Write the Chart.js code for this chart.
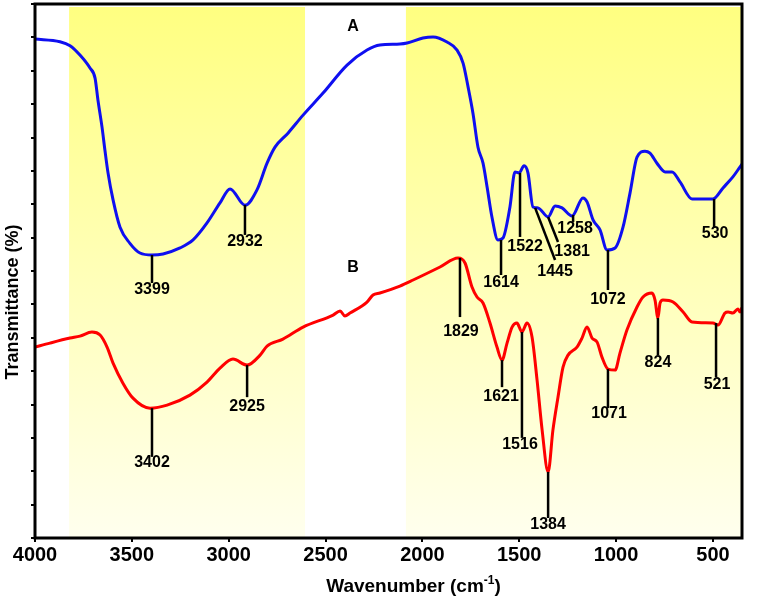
<!DOCTYPE html>
<html>
<head>
<meta charset="utf-8">
<script src="https://cdn.jsdelivr.net/npm/chart.js@4.4.1/dist/chart.umd.min.js"></script>
<style>
html,body{margin:0;padding:0;background:#fff;}
#wrap{position:relative;width:765px;height:601px;}
</style>
</head>
<body>
<div id="wrap"><canvas id="c"></canvas></div>
<script>
// ---- data ----
const xTicks = [4000, 3500, 3000, 2500, 2000, 1500, 1000, 500];
const xTickLabels = ['4000', '3500', '3000', '2500', '2000', '1500', '1000', '500'];
const yTicks = [0,1,2,3,4,5,6,7,8,9,10,11,12,13,14,15,16];

const blueWavenumbers = [4000,3871,3819,3768,3716,3690,3675,3654,3639,3623,3597,3561,3510,3458,3396,3339,3251,3184,3112,3045,2993,2916,2854,2802,2761,2694,2616,2513,2389,2286,2219,2116,2079,1997,1945,1873,1821,1790,1764,1739,1713,1687,1666,1641,1610,1584,1548,1522,1501,1475,1455,1429,1403,1351,1315,1279,1227,1171,1150,1119,1083,1047,1005,964,928,892,851,825,789,747,711,670,608,500,448,397,360,350];
const blueValues = [14.95,14.87,14.75,14.47,14.08,13.78,13.12,12.31,11.62,10.94,10.13,9.31,8.83,8.54,8.48,8.51,8.69,8.93,9.44,10.04,10.46,9.97,10.43,11.23,11.71,12.13,12.67,13.33,14.17,14.62,14.77,14.80,14.83,14.98,15.01,14.86,14.62,14.23,13.51,12.73,11.71,11.23,10.52,9.62,8.93,8.99,9.92,10.97,10.94,11.15,10.94,9.92,9.89,9.62,9.95,9.89,9.65,10.19,10.07,9.53,9.23,8.63,8.69,9.32,10.34,11.41,11.59,11.53,11.23,10.97,10.97,10.67,10.16,10.16,10.49,10.82,11.12,11.2];

const redWavenumbers = [4000,3923,3819,3768,3706,3664,3628,3597,3546,3494,3406,3318,3200,3112,3045,2978,2905,2838,2802,2720,2616,2461,2425,2400,2374,2286,2255,2219,2116,2048,1909,1816,1780,1744,1718,1687,1651,1615,1589,1563,1537,1512,1486,1460,1434,1408,1382,1351,1326,1300,1274,1248,1202,1176,1150,1124,1098,1073,1042,1005,980,944,892,861,815,799,784,773,758,706,654,608,500,474,438,422,397,371,360,350];
const redValues = [5.72,5.84,5.99,6.05,6.17,6.08,5.72,5.24,4.64,4.19,3.89,3.98,4.28,4.67,5.09,5.36,5.18,5.48,5.75,5.96,6.32,6.68,6.80,6.65,6.74,7.07,7.28,7.34,7.55,7.73,8.12,8.39,8.24,7.52,7.22,7.04,6.44,5.72,5.33,5.84,6.32,6.44,6.17,6.44,6.02,4.73,3.24,1.98,3.24,4.22,5.12,5.48,5.72,5.99,6.32,5.99,5.87,5.42,5.06,5.03,5.54,6.23,6.92,7.22,7.34,7.13,6.59,7.04,7.13,7.07,6.77,6.47,6.44,6.38,6.74,6.77,6.74,6.86,6.77,6.9];

// shaded spectral regions (wavenumber ranges)
const bandStarts = [3824, 2085];
const bandEnds   = [2606, 350];

// peak annotations: text, marker line start/end (wavenumber, value), label anchor
const peakLabels = ['3399','2932','1614','1522','1445','1381','1258','1072','530','3402','2925','1829','1621','1516','1384','1071','824','521'];
const peakX1 = [3396,2916,1594,1496,1418,1351,1222,1042,494, 3396,2905,1806,1589,1486,1351,1042,784,484];
const peakY1 = [8.48,9.98,8.93,10.94,9.89,9.62,9.68,8.63,10.16, 3.89,5.18,8.39,5.33,6.17,1.98,5.06,6.59,6.44];
const peakX2 = [3396,2916,1594,1496,1315,1300,1222,1042,494, 3396,2905,1806,1589,1486,1351,1042,784,484];
const peakY2 = [7.64,9.08,7.88,9.02,8.33,8.87,9.47,7.43,9.29, 2.43,4.22,6.62,4.52,3.0,0.6,3.89,5.48,4.82];
const peakLX = [3396,2916,1594,1470,1315,1227,1212,1042,489, 3396,2905,1801,1594,1496,1351,1036,784,479];
const peakLY = [7.43,8.87,7.64,8.72,7.97,8.57,9.26,7.13,9.11, 2.25,3.95,6.17,4.25,2.79,0.39,3.74,5.27,4.61];

const curveNames = ['A','B'];
const curveNameX = [2358, 2358];
const curveNameY = [15.31, 8.09];

const xTitle = 'Wavenumber (cm';
const xTitleSup = '-1';
const xTitleEnd = ')';
const yTitle = 'Transmittance (%)';

// ---- plugins ----
const FONT = '"Liberation Sans", Arial, sans-serif';

const bandsPlugin = {
  id: 'bands',
  beforeDatasetsDraw(chart) {
    const {ctx, chartArea, scales} = chart;
    const xs = scales.x;
    ctx.save();
    const g = ctx.createLinearGradient(0, chartArea.top, 0, chartArea.bottom);
    g.addColorStop(0, 'rgb(255,255,128)');
    g.addColorStop(1, 'rgb(255,255,238)');
    ctx.fillStyle = g;
    for (let i = 0; i < bandStarts.length; i++) {
      const a = xs.getPixelForValue(bandStarts[i]);
      const b = xs.getPixelForValue(bandEnds[i]);
      ctx.fillRect(Math.min(a,b), chartArea.top + 3, Math.abs(b-a), chartArea.bottom - chartArea.top - 4);
    }
    ctx.restore();
  }
};

const annotPlugin = {
  id: 'annot',
  afterDatasetsDraw(chart) {
    const {ctx, chartArea, scales} = chart;
    const xs = scales.x, ys = scales.y;
    ctx.save();
    ctx.strokeStyle = '#000';
    ctx.lineWidth = 2.5;
    for (let i = 0; i < peakLabels.length; i++) {
      ctx.beginPath();
      ctx.moveTo(xs.getPixelForValue(peakX1[i]), ys.getPixelForValue(peakY1[i]));
      ctx.lineTo(xs.getPixelForValue(peakX2[i]), ys.getPixelForValue(peakY2[i]));
      ctx.stroke();
    }
    ctx.fillStyle = '#000';
    ctx.textAlign = 'center';
    ctx.textBaseline = 'middle';
    ctx.font = 'bold 16px ' + FONT;
    for (let i = 0; i < peakLabels.length; i++) {
      ctx.fillText(peakLabels[i], xs.getPixelForValue(peakLX[i]), ys.getPixelForValue(peakLY[i]));
    }
    ctx.font = 'bold 16px ' + FONT;
    for (let i = 0; i < curveNames.length; i++) {
      ctx.fillText(curveNames[i], xs.getPixelForValue(curveNameX[i]), ys.getPixelForValue(curveNameY[i]));
    }
    // frame
    ctx.lineWidth = 3;
    ctx.strokeRect(chartArea.left, chartArea.top, chartArea.right - chartArea.left, chartArea.bottom - chartArea.top);
    ctx.restore();
  },
  afterDraw(chart) {
    const {ctx, chartArea} = chart;
    ctx.save();
    ctx.fillStyle = '#000';
    // x title with superscript
    ctx.font = 'bold 19px ' + FONT;
    const w1 = ctx.measureText(xTitle).width;
    ctx.font = 'bold 12px ' + FONT;
    const w2 = ctx.measureText(xTitleSup).width;
    ctx.font = 'bold 19px ' + FONT;
    const w3 = ctx.measureText(xTitleEnd).width;
    const total = w1 + w2 + w3;
    const cx = (chartArea.left + chartArea.right) / 2 + 25;
    let x0 = cx - total / 2;
    const by = 592;
    ctx.textAlign = 'left';
    ctx.textBaseline = 'alphabetic';
    ctx.fillText(xTitle, x0, by);
    ctx.font = 'bold 12px ' + FONT;
    ctx.fillText(xTitleSup, x0 + w1, by - 8);
    ctx.font = 'bold 19px ' + FONT;
    ctx.fillText(xTitleEnd, x0 + w1 + w2, by);
    // y title
    ctx.translate(13, 302);
    ctx.rotate(-Math.PI / 2);
    ctx.textAlign = 'center';
    ctx.textBaseline = 'middle';
    ctx.font = 'bold 18px ' + FONT;
    ctx.fillText(yTitle, 0, 0);
    ctx.restore();
  }
};

function toPoints(xsArr, ysArr) {
  return xsArr.map((x, i) => ({x: x, y: ysArr[i]}));
}

new Chart(document.getElementById('c'), {
  type: 'line',
  data: {
    datasets: [
      {
        label: 'A',
        data: toPoints(blueWavenumbers, blueValues),
        borderColor: 'rgb(15,15,240)',
        borderWidth: 3,
        pointRadius: 0,
        cubicInterpolationMode: 'monotone',
        fill: false
      },
      {
        label: 'B',
        data: toPoints(redWavenumbers, redValues),
        borderColor: 'rgb(255,0,0)',
        borderWidth: 3,
        pointRadius: 0,
        cubicInterpolationMode: 'monotone',
        fill: false
      }
    ]
  },
  options: {
    responsive: true,
    maintainAspectRatio: false,
    animation: false,
    devicePixelRatio: 1,
    layout: { padding: { left: 35, right: 23, top: 4, bottom: 0 } },
    plugins: { legend: { display: false }, tooltip: { enabled: false } },
    scales: {
      x: {
        type: 'linear',
        reverse: true,
        min: 350,
        max: 4000,
        afterBuildTicks: (s) => { s.ticks = xTicks.map(v => ({value: v})); },
        afterFit: (s) => { s.height = 63; },
        border: { display: false },
        grid: { drawOnChartArea: false, drawTicks: true, tickLength: 4, color: '#000', lineWidth: 2 },
        ticks: {
          color: '#000',
          padding: 1,
          maxRotation: 0,
          autoSkip: false,
          font: { family: FONT, size: 20, weight: 'bold' },
          callback: (v) => { const i = xTicks.indexOf(v); return i >= 0 ? xTickLabels[i] : ''; }
        }
      },
      y: {
        min: 0,
        max: 16,
        afterBuildTicks: (s) => { s.ticks = yTicks.map(v => ({value: v})); },
        afterFit: (s) => { s.width = 0; },
        border: { display: false },
        grid: { drawOnChartArea: false, drawTicks: true, tickLength: 4, color: '#000', lineWidth: 2 },
        ticks: { display: false }
      }
    }
  },
  plugins: [bandsPlugin, annotPlugin]
});
</script>
</body>
</html>
